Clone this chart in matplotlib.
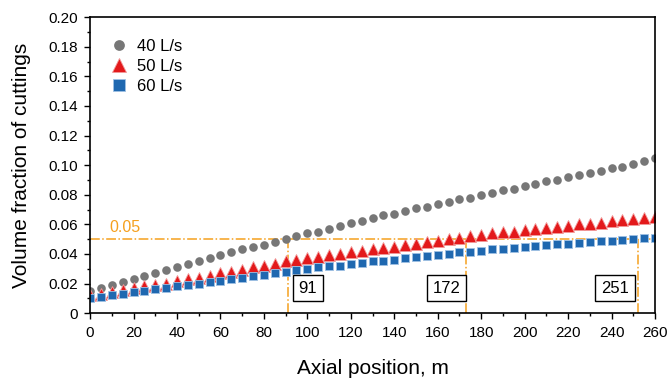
import numpy as np
import matplotlib
matplotlib.use("Agg")
from matplotlib import pyplot as plt
from matplotlib.ticker import MultipleLocator, FuncFormatter

plt.rcParams['font.family'] = ['Liberation Sans', 'DejaVu Sans']

# axial position, m (every 5 m)
position = list(range(0, 261, 5))

# volume fraction of cuttings
frac_40 = [0.015, 0.017, 0.019, 0.021, 0.023, 0.025, 0.027, 0.029, 0.031, 0.033,
           0.035, 0.037, 0.039, 0.041, 0.043, 0.045, 0.046, 0.048, 0.050, 0.052,
           0.054, 0.055, 0.057, 0.059, 0.061, 0.062, 0.064, 0.066, 0.067, 0.069,
           0.071, 0.072, 0.074, 0.075, 0.077, 0.078, 0.080, 0.081, 0.083, 0.084,
           0.086, 0.087, 0.089, 0.090, 0.092, 0.093, 0.095, 0.096, 0.098, 0.099,
           0.101, 0.103, 0.105]
frac_50 = [0.012, 0.013, 0.014, 0.0155, 0.017, 0.018, 0.019, 0.020, 0.022, 0.023,
           0.024, 0.025, 0.027, 0.028, 0.029, 0.031, 0.032, 0.033, 0.035, 0.036,
           0.037, 0.038, 0.039, 0.040, 0.041, 0.042, 0.043, 0.044, 0.045, 0.046,
           0.047, 0.048, 0.049, 0.050, 0.051, 0.052, 0.053, 0.054, 0.0545, 0.055,
           0.056, 0.057, 0.0575, 0.058, 0.059, 0.060, 0.0605, 0.061, 0.062, 0.063,
           0.0635, 0.064, 0.065]
frac_60 = [0.010, 0.011, 0.012, 0.013, 0.014, 0.015, 0.016, 0.017, 0.018, 0.019,
           0.020, 0.021, 0.022, 0.023, 0.024, 0.025, 0.026, 0.027, 0.028, 0.029,
           0.030, 0.031, 0.0315, 0.032, 0.033, 0.034, 0.035, 0.0355, 0.036, 0.037,
           0.038, 0.0385, 0.039, 0.040, 0.041, 0.0415, 0.042, 0.043, 0.0435, 0.044,
           0.045, 0.0455, 0.046, 0.0465, 0.047, 0.0475, 0.048, 0.0485, 0.049, 0.0495,
           0.050, 0.0505, 0.051]

threshold = 0.05
cross_positions = [91, 173, 252]
cross_labels = ['91', '172', '251']
label_x = [100.3, 164, 241.5]

orange = '#f5a01e'

fig = plt.figure(figsize=(6.67, 3.8), dpi=100)
ax = fig.add_axes([0.135, 0.176, 0.847, 0.779])

ax.plot(position, frac_40, 'o', color='#777777', markersize=6.2, markeredgewidth=0,
        label='40 L/s')
ax.plot(position, frac_50, '^', color='#e3191b', markersize=8.2, markeredgecolor='#f29a9a',
        markeredgewidth=0.6, label='50 L/s')
ax.plot(position, frac_60, 's', color='#1f68b0', markersize=6.4, markeredgecolor='#9fc1e3',
        markeredgewidth=0.6, label='60 L/s')

# threshold line and crossing markers
ax.axhline(threshold, color=orange, linestyle='-.', linewidth=1.1, zorder=1)
for xc in cross_positions:
    ax.plot([xc, xc], [0, threshold], color=orange, linestyle='-.', linewidth=1.1, zorder=1)
ax.text(16, 0.0525, '0.05', color=orange, fontsize=11.5, ha='center', va='bottom')
for lx, lab in zip(label_x, cross_labels):
    ax.text(lx, 0.0169, lab, fontsize=12, ha='center', va='center',
            bbox=dict(boxstyle='square,pad=0.35', facecolor='white', edgecolor='black', linewidth=1))

ax.set_xlim(0, 260)
ax.set_ylim(0, 0.20)
ax.xaxis.set_major_locator(MultipleLocator(20))
ax.xaxis.set_minor_locator(MultipleLocator(10))
ax.yaxis.set_major_locator(MultipleLocator(0.02))
ax.yaxis.set_minor_locator(MultipleLocator(0.01))
ax.yaxis.set_major_formatter(FuncFormatter(lambda v, p: '0' if abs(v) < 1e-9 else '%.2f' % v))
ax.tick_params(which='both', direction='out', labelsize=11, width=1)
ax.tick_params(which='major', length=4, pad=5)
ax.tick_params(which='minor', length=2.5)
for s in ax.spines.values():
    s.set_linewidth(1.2)

ax.set_xlabel('Axial position, m', fontsize=15, labelpad=14)
ax.set_ylabel('Volume fraction of cuttings', fontsize=15, labelpad=12)

ax.legend(loc='upper left', frameon=False, fontsize=12, handletextpad=0.1,
          borderaxespad=1.0, labelspacing=0.3, markerscale=1.25,
          bbox_to_anchor=(-0.02, 1.005))

fig.savefig('out.png', dpi=100)
